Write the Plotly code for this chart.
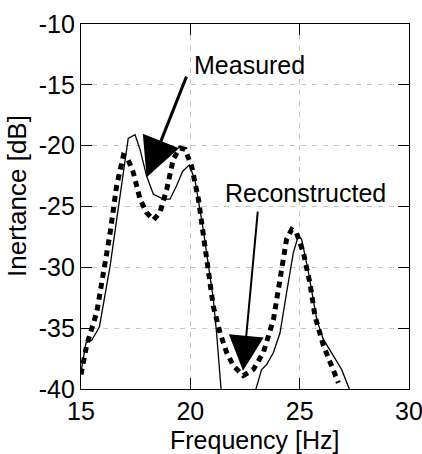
import plotly.graph_objects as go

# Measured (solid) curve, split into two visible branches
meas_x1 = [15.0, 15.23, 15.49, 15.84, 16.33, 17.01, 17.16, 17.47, 17.70, 18.0, 18.31, 18.77, 19.07, 19.37, 19.65, 19.95, 20.21, 20.59, 21.05, 21.2, 21.39, 21.45]
meas_y1 = [-38.6, -36.2, -36.0, -34.9, -29.9, -21.4, -19.4, -19.1, -20.3, -22.5, -24.0, -24.4, -24.4, -23.3, -22.1, -21.6, -22.8, -26.9, -32.6, -35.4, -40.0, -41.0]
meas_x2 = [22.95, 23.0, 23.26, 23.49, 23.8, 24.1, 24.4, 24.71, 24.94, 25.09, 25.4, 25.78, 26.08, 26.54, 26.92, 27.27, 27.35]
meas_y2 = [-41.0, -40.0, -38.4, -38.0, -37.0, -35.4, -32.1, -28.8, -27.4, -27.7, -30.4, -34.3, -35.9, -37.3, -38.4, -40.0, -41.0]

# Reconstructed (dotted) curve
rec_x = [15.0, 15.26, 15.72, 16.33, 16.63, 16.94, 17.1, 17.39, 17.70, 18.0, 18.31, 18.61, 18.92, 19.22, 19.53, 19.76, 20.06, 20.37, 20.67, 21.05, 21.36, 21.66, 21.97, 22.42, 22.88, 23.34, 23.8, 24.1, 24.4, 24.63, 24.86, 25.17, 25.47, 25.7, 26.08, 26.46, 26.77]
rec_y = [-38.8, -36.4, -33.7, -27.2, -23.3, -20.8, -20.9, -22.2, -24.4, -25.5, -26.1, -25.5, -23.6, -21.1, -20.2, -20.3, -21.7, -24.4, -28.3, -33.2, -35.4, -37.0, -38.1, -38.9, -38.4, -37.0, -34.3, -31.0, -27.7, -26.9, -27.2, -28.8, -31.3, -34.0, -36.4, -38.1, -39.5]

x_ticks = [15, 20, 25, 30]
x_ticklabels = ["15", "20", "25", "30"]
y_ticks = [-40, -35, -30, -25, -20, -15, -10]
y_ticklabels = ["-40", "-35", "-30", "-25", "-20", "-15", "-10"]

FONT = "Liberation Sans, Arial, sans-serif"
FS = 25

fig = go.Figure()
fig.add_trace(go.Scatter(x=meas_x1, y=meas_y1, mode="lines",
                         line=dict(color="black", width=1.3), showlegend=False))
fig.add_trace(go.Scatter(x=meas_x2, y=meas_y2, mode="lines",
                         line=dict(color="black", width=1.3), showlegend=False))
fig.add_trace(go.Scatter(x=rec_x, y=rec_y, mode="lines",
                         line=dict(color="black", width=5, dash="6px,5px"), showlegend=False))

axis_common = dict(
    showline=True, linecolor="black", linewidth=1.2, mirror="ticks",
    ticks="inside", ticklen=11, tickcolor="black", tickwidth=1.2,
    showgrid=True, gridcolor="#c4c4c4", gridwidth=1, griddash="5px,6px",
    zeroline=False, tickfont=dict(family=FONT, size=FS, color="black"),
    ticklabeloverflow="allow", automargin=False,
)

fig.update_xaxes(range=[15, 30], tickvals=x_ticks, ticktext=x_ticklabels, **axis_common)
fig.update_yaxes(range=[-40, -10], tickvals=y_ticks, ticktext=y_ticklabels, **axis_common)

# Axis titles
fig.add_annotation(x=0.529, y=-0.14, xref="paper", yref="paper", text="Frequency [Hz]",
                   showarrow=False, xanchor="center", yanchor="middle",
                   font=dict(family=FONT, size=FS, color="black"))
fig.add_annotation(x=-0.195, y=0.529, xref="paper", yref="paper", text="Inertance [dB]",
                   showarrow=False, textangle=-90, xanchor="center", yanchor="middle",
                   font=dict(family=FONT, size=26, color="black"))

# Arrows
fig.add_annotation(x=18.0, y=-22.6, ax=19.85, ay=-14.2, axref="x", ayref="y",
                   xref="x", yref="y", text="", showarrow=True,
                   arrowhead=2, arrowwidth=3, arrowsize=2.6, arrowcolor="black")
fig.add_annotation(x=22.41, y=-38.5, ax=23.09, ay=-25.3, axref="x", ayref="y",
                   xref="x", yref="y", text="", showarrow=True,
                   arrowhead=2, arrowwidth=2, arrowsize=3.5, arrowcolor="black")
# Labels
fig.add_annotation(x=22.7, y=-13.35, xref="x", yref="y", text="Measured", showarrow=False,
                   font=dict(family=FONT, size=FS, color="black"))
fig.add_annotation(x=25.25, y=-23.85, xref="x", yref="y", text="Reconstructed", showarrow=False,
                   font=dict(family=FONT, size=FS, color="black"))

fig.update_layout(
    width=422, height=454,
    margin=dict(l=81, r=13, t=24, b=65),
    plot_bgcolor="white", paper_bgcolor="white",
    font=dict(family=FONT, size=FS, color="black"),
)

fig.write_html("out.html")
